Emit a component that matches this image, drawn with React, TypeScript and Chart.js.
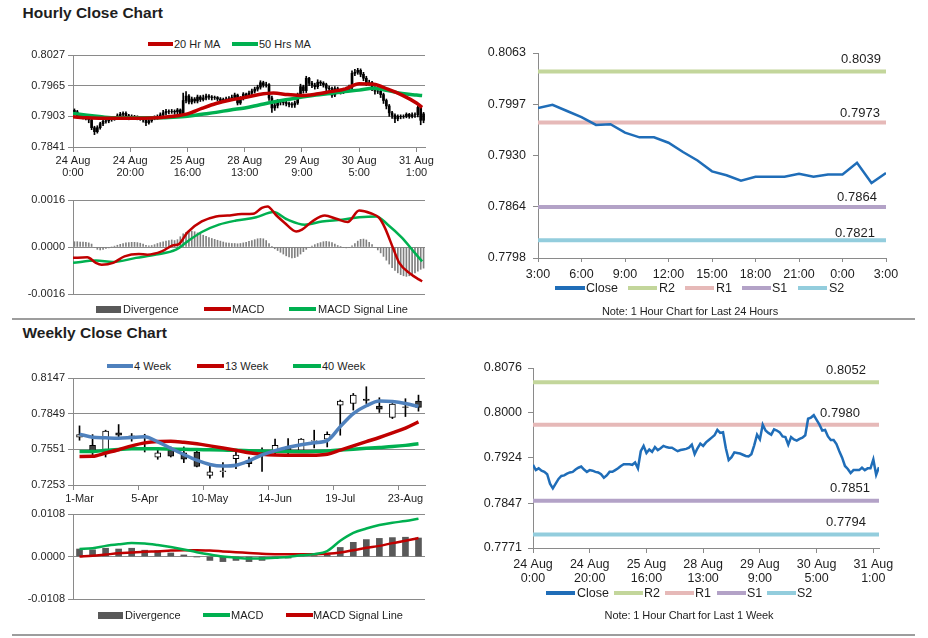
import React, { useEffect, useRef } from 'react';
import { Chart, registerables } from 'chart.js';
Chart.register(...registerables);

const FONT = '"Liberation Sans", Arial, sans-serif';
const GRID = '#8a8a8a';
const INK = '#1e1e1e';
const RED = '#C00000';
const GREEN = '#00B050';
const BLUE = '#4F81BD';
const CLOSE_BLUE = '#1F6DB8';
const DIV_GRAY = '#595959';
const LEVEL_COLORS = ['#C3D69B', '#E6B9B8', '#B3A2C7', '#93CDDD'];
const LEVEL_NAMES = ['R2', 'R1', 'S1', 'S2'];

Chart.defaults.font.family = FONT;
Chart.defaults.color = INK;

// ---------------- Hourly data (24 Aug 0:00 .. 31 Aug 3:00) ----------------
const hourTickIndex = [0, 20, 40, 60, 80, 100, 120];
const hourTickLabels = [
  ['24 Aug', '0:00'], ['24 Aug', '20:00'], ['25 Aug', '16:00'], ['28 Aug', '13:00'],
  ['29 Aug', '9:00'], ['30 Aug', '5:00'], ['31 Aug', '1:00'],
];
const firstOpen = 0.7915;
const hourlyClose = [
  0.7912, 0.7903, 0.7906, 0.7902, 0.7900, 0.7896, 0.7880, 0.7872, 0.7880, 0.7888,
  0.7893, 0.7894, 0.7897, 0.7899, 0.7900, 0.7904, 0.7907, 0.7909, 0.7904, 0.7900,
  0.7903, 0.7902, 0.7900, 0.7899, 0.7896, 0.7890, 0.7894, 0.7900, 0.7900, 0.7903,
  0.7906, 0.7910, 0.7913, 0.7913, 0.7913, 0.7912, 0.7916, 0.7906, 0.7935, 0.7944,
  0.7932, 0.7938, 0.7934, 0.7942, 0.7937, 0.7940, 0.7944, 0.7942, 0.7941, 0.7941,
  0.7938, 0.7935, 0.7937, 0.7938, 0.7939, 0.7941, 0.7946, 0.7930, 0.7940, 0.7948,
  0.7944, 0.7950, 0.7954, 0.7958, 0.7962, 0.7971, 0.7966, 0.7967, 0.7940, 0.7920,
  0.7925, 0.7933, 0.7932, 0.7931, 0.7929, 0.7927, 0.7926, 0.7930, 0.7945, 0.7963,
  0.7955, 0.7980, 0.7970, 0.7966, 0.7963, 0.7972, 0.7970, 0.7967, 0.7960, 0.7959,
  0.7946, 0.7959, 0.7955, 0.7953, 0.7956, 0.7958, 0.7962, 0.7990, 0.7992, 0.7996,
  0.7988, 0.7980, 0.7970, 0.7971, 0.7960, 0.7954, 0.7954, 0.7947, 0.7935, 0.7924,
  0.7910, 0.7905, 0.7898, 0.7903, 0.7903, 0.7903, 0.7907, 0.7903, 0.7906, 0.7906,
  0.7921, 0.7895, 0.7908,
];
const hourlyHigh = [
  0.7918, 0.7915, 0.7909, 0.7908, 0.7905, 0.7903, 0.7898, 0.7883, 0.7884, 0.7891,
  0.7896, 0.7898, 0.7900, 0.7902, 0.7903, 0.7908, 0.7911, 0.7912, 0.7912, 0.7907,
  0.7906, 0.7905, 0.7904, 0.7903, 0.7901, 0.7898, 0.7897, 0.7903, 0.7904, 0.7906,
  0.7910, 0.7915, 0.7917, 0.7916, 0.7917, 0.7916, 0.7919, 0.7918, 0.7950, 0.7953,
  0.7947, 0.7942, 0.7941, 0.7946, 0.7945, 0.7946, 0.7948, 0.7947, 0.7945, 0.7944,
  0.7943, 0.7941, 0.7940, 0.7942, 0.7943, 0.7946, 0.7950, 0.7948, 0.7943, 0.7951,
  0.7950, 0.7954, 0.7958, 0.7962, 0.7966, 0.7975, 0.7974, 0.7972, 0.7969, 0.7944,
  0.7930, 0.7937, 0.7936, 0.7935, 0.7934, 0.7932, 0.7931, 0.7934, 0.7950, 0.7968,
  0.7966, 0.7984, 0.7982, 0.7974, 0.7970, 0.7977, 0.7975, 0.7973, 0.7970, 0.7964,
  0.7962, 0.7963, 0.7962, 0.7958, 0.7960, 0.7962, 0.7966, 0.7995, 0.7998, 0.8000,
  0.7999, 0.7992, 0.7984, 0.7976, 0.7974, 0.7963, 0.7958, 0.7957, 0.7950, 0.7938,
  0.7927, 0.7913, 0.7908, 0.7906, 0.7906, 0.7906, 0.7910, 0.7909, 0.7910, 0.7910,
  0.7924, 0.7923, 0.7911,
];
const hourlyLow = [
  0.7908, 0.7900, 0.7900, 0.7898, 0.7896, 0.7890, 0.7876, 0.7866, 0.7869, 0.7877,
  0.7884, 0.7889, 0.7890, 0.7893, 0.7895, 0.7897, 0.7901, 0.7903, 0.7900, 0.7896,
  0.7897, 0.7898, 0.7896, 0.7895, 0.7891, 0.7884, 0.7887, 0.7891, 0.7896, 0.7897,
  0.7900, 0.7903, 0.7906, 0.7908, 0.7909, 0.7907, 0.7908, 0.7902, 0.7904, 0.7930,
  0.7928, 0.7928, 0.7930, 0.7930, 0.7933, 0.7934, 0.7936, 0.7937, 0.7936, 0.7937,
  0.7934, 0.7931, 0.7932, 0.7933, 0.7935, 0.7935, 0.7937, 0.7926, 0.7927, 0.7936,
  0.7940, 0.7941, 0.7946, 0.7950, 0.7954, 0.7958, 0.7962, 0.7962, 0.7935, 0.7911,
  0.7915, 0.7920, 0.7926, 0.7926, 0.7924, 0.7922, 0.7921, 0.7921, 0.7927, 0.7941,
  0.7950, 0.7951, 0.7965, 0.7961, 0.7958, 0.7959, 0.7965, 0.7962, 0.7955, 0.7954,
  0.7941, 0.7943, 0.7950, 0.7948, 0.7949, 0.7951, 0.7954, 0.7958, 0.7985, 0.7988,
  0.7983, 0.7975, 0.7965, 0.7966, 0.7955, 0.7948, 0.7949, 0.7941, 0.7929, 0.7918,
  0.7903, 0.7899, 0.7890, 0.7894, 0.7898, 0.7899, 0.7900, 0.7899, 0.7900, 0.7901,
  0.7902, 0.7886, 0.7890,
];
const maHours = [0, 5, 10, 15, 20, 25, 30, 35, 40, 45, 50, 55, 60, 65, 70, 75, 80, 85, 90, 95, 100, 105, 110, 115, 120, 122];
const ma20 = [0.7902, 0.7900, 0.7899, 0.7899, 0.7899, 0.7899, 0.7900, 0.7903, 0.7908, 0.7919, 0.7929, 0.7936, 0.7941, 0.7947, 0.7950, 0.7947, 0.7945, 0.7948, 0.7953, 0.7958, 0.7969, 0.7968, 0.7958, 0.7946, 0.7930, 0.7921];
const ma50 = [0.7909, 0.7905, 0.7902, 0.7900, 0.7900, 0.7900, 0.7900, 0.7901, 0.7903, 0.7907, 0.7911, 0.7916, 0.7920, 0.7926, 0.7932, 0.7937, 0.7942, 0.7946, 0.7949, 0.7953, 0.7956, 0.7960, 0.7955, 0.7949, 0.7946, 0.7945];
const hPriceTicks = [0.7841, 0.7903, 0.7965, 0.8027];

const hMacdHours = [0, 5, 8, 10, 14, 18, 23, 26, 31, 35, 37, 40, 45, 50, 54, 59, 63, 66, 68, 71, 74, 78, 80, 84, 88, 92, 96, 100, 104, 107, 109, 112, 114, 118, 121, 122];
const hMacd = [-0.00037, -0.00035, -0.00054, -0.00060, -0.00054, -0.00032, -0.00024, -0.00026, -0.00015, 0.00006, 0.00010, 0.00050, 0.00087, 0.00104, 0.00107, 0.00112, 0.00113, 0.00133, 0.00138, 0.00108, 0.00082, 0.00053, 0.00059, 0.00090, 0.00107, 0.00096, 0.00085, 0.00124, 0.00115, 0.00099, 0.00065, -0.00008, -0.00054, -0.00092, -0.00111, -0.00117];
const hSignalHours = [0, 8, 14, 22, 29, 36, 40, 45, 51, 57, 64, 70, 75, 81, 87, 94, 100, 106, 110, 115, 119, 122];
const hSignal = [-0.00054, -0.00046, -0.00051, -0.00037, -0.00026, -0.00009, 0.00019, 0.00051, 0.00076, 0.00090, 0.00101, 0.00119, 0.00093, 0.00076, 0.00087, 0.00093, 0.00101, 0.00104, 0.00076, 0.00031, -0.00015, -0.00049];
const hourlyDiv = [
  0.00018, 0.00018, 0.00017, 0.00017, 0.00016, 0.00014, 0.00010,
  -0.00002, -0.00008, -0.00010, -0.00008,
  -0.00005, -0.00003, 0.00000, 0.00003, 0.00006, 0.00009,
  0.00012, 0.00014, 0.00015, 0.00016, 0.00016, 0.00015, 0.00013, 0.00010,
  0.00006, 0.00004, 0.00005, 0.00008,
  0.00012, 0.00015, 0.00018, 0.00020, 0.00022, 0.00024, 0.00022,
  0.00025, 0.00035, 0.00045, 0.00050, 0.00053, 0.00054, 0.00052, 0.00048, 0.00044, 0.00040,
  0.00036, 0.00032, 0.00029, 0.00026, 0.00023, 0.00020, 0.00017, 0.00014, 0.00013, 0.00012,
  0.00012, 0.00011, 0.00012, 0.00014, 0.00016, 0.00019, 0.00022,
  0.00025, 0.00028, 0.00029, 0.00028, 0.00022, 0.00012, 0.00002,
  -0.00006, -0.00012, -0.00018, -0.00024, -0.00030, -0.00034, -0.00037, -0.00036, -0.00032, -0.00024, -0.00016,
  -0.00008, -0.00002, 0.00003, 0.00008, 0.00012,
  0.00015, 0.00018, 0.00019, 0.00018, 0.00015, 0.00010, 0.00005,
  0.00002, -0.00002, -0.00003, -0.00002, 0.00004,
  0.00012, 0.00020, 0.00026, 0.00027, 0.00024, 0.00016, 0.00008,
  -0.00002, -0.00010, -0.00020, -0.00032, -0.00045, -0.00058,
  -0.00070, -0.00080, -0.00088, -0.00094, -0.00098, -0.00100, -0.00098, -0.00094,
  -0.00088, -0.00082, -0.00076, -0.00072,
];
const hMacdTicks = [-0.0016, 0, 0.0016];

// ---------------- Weekly data ----------------
const weekLabels = ['1-Mar', '8-Mar', '15-Mar', '22-Mar', '29-Mar', '5-Apr', '12-Apr', '19-Apr', '26-Apr', '3-May', '10-May', '17-May', '24-May', '31-May', '7-Jun', '14-Jun', '21-Jun', '28-Jun', '5-Jul', '12-Jul', '19-Jul', '26-Jul', '2-Aug', '9-Aug', '16-Aug', '23-Aug', '30-Aug'];
const weekOpen = [0.7652, 0.7585, 0.7535, 0.7688, 0.7649, 0.7662, 0.7485, 0.7543, 0.7521, 0.7529, 0.7334, 0.7365, 0.7473, 0.7460, 0.7504, 0.7529, 0.7571, 0.7543, 0.7620, 0.7636, 0.7921, 0.7934, 0.7971, 0.7912, 0.7817, 0.7907, 0.7954];
const weekClose = [0.7674, 0.7529, 0.7703, 0.7669, 0.7663, 0.7655, 0.7521, 0.7493, 0.7468, 0.7409, 0.7362, 0.7372, 0.7502, 0.7431, 0.7523, 0.7585, 0.7529, 0.7636, 0.7625, 0.7677, 0.7954, 0.8004, 0.7959, 0.7887, 0.7929, 0.7902, 0.7901];
const weekHigh = [0.7747, 0.7674, 0.7711, 0.7758, 0.7683, 0.7677, 0.7543, 0.7571, 0.7571, 0.7535, 0.7409, 0.7440, 0.7529, 0.7487, 0.7563, 0.7636, 0.7641, 0.7641, 0.7711, 0.7697, 0.7963, 0.8018, 0.8074, 0.7982, 0.7934, 0.7974, 0.8004];
const weekLow = [0.7627, 0.7507, 0.7487, 0.7647, 0.7619, 0.7529, 0.7468, 0.7487, 0.7440, 0.7404, 0.7311, 0.7319, 0.7389, 0.7404, 0.7367, 0.7515, 0.7515, 0.7529, 0.7563, 0.7571, 0.7669, 0.7879, 0.7934, 0.7859, 0.7808, 0.7825, 0.7870];
const ma4 = [0.7678, 0.7652, 0.7647, 0.7644, 0.7650, 0.7656, 0.7614, 0.7560, 0.7508, 0.7460, 0.7424, 0.7411, 0.7418, 0.7455, 0.7505, 0.7540, 0.7568, 0.7590, 0.7606, 0.7624, 0.7741, 0.7850, 0.7915, 0.7955, 0.7950, 0.7934, 0.7909];
const ma13 = [0.7492, 0.7493, 0.7520, 0.7548, 0.7580, 0.7605, 0.7617, 0.7619, 0.7610, 0.7597, 0.7580, 0.7562, 0.7543, 0.7522, 0.7510, 0.7504, 0.7502, 0.7501, 0.7502, 0.7510, 0.7545, 0.7580, 0.7615, 0.7650, 0.7688, 0.7728, 0.7780];
const ma40 = [0.7532, 0.7532, 0.7543, 0.7550, 0.7555, 0.7556, 0.7555, 0.7553, 0.7551, 0.7549, 0.7547, 0.7545, 0.7543, 0.7540, 0.7537, 0.7534, 0.7532, 0.7531, 0.7533, 0.7538, 0.7545, 0.7552, 0.7560, 0.7567, 0.7574, 0.7584, 0.7598];
const wPriceTicks = [0.7253, 0.7551, 0.7849, 0.8147];
const weekMacd = [0.0019, 0.0021, 0.0027, 0.0031, 0.0034, 0.0033, 0.0029, 0.0024, 0.0018, 0.0011, 0.0005, 0.0000, -0.0003, -0.0005, -0.0005, -0.0003, -0.0001, 0.0003, 0.0006, 0.0014, 0.0040, 0.0060, 0.0071, 0.0080, 0.0086, 0.0090, 0.0096];
const weekSignal = [0.0000, 0.0002, 0.0005, 0.0008, 0.0010, 0.0012, 0.0013, 0.0015, 0.0016, 0.0016, 0.0015, 0.0013, 0.0011, 0.0009, 0.0007, 0.0006, 0.0006, 0.0006, 0.0006, 0.0007, 0.0010, 0.0016, 0.0022, 0.0027, 0.0034, 0.0040, 0.0047];
const weekDiv = [0.0019, 0.0017, 0.0021, 0.0019, 0.0021, 0.0016, 0.0015, 0.0009, 0.0004, -0.0001, -0.0010, -0.0013, -0.0010, -0.0013, -0.0010, -0.0005, -0.0004, 0.0002, 0.0002, 0.0004, 0.0023, 0.0036, 0.0043, 0.0046, 0.0048, 0.0049, 0.0047];
const wMacdTicks = [-0.0108, 0, 0.0108];

// ---------------- Last 24 hours / last week with pivots ----------------
const dayStart = 98;
const dayTickHours = [0, 3, 6, 9, 12, 15, 18, 21, 24];
const dayTickLabels = ['3:00', '6:00', '9:00', '12:00', '15:00', '18:00', '21:00', '0:00', '3:00'];
const dayTicks = [0.7798, 0.7864, 0.7930, 0.7997, 0.8063];
const dayLevels = [0.8039, 0.7973, 0.7864, 0.7821];
const weekHourTicks = [0.7771, 0.7847, 0.7924, 0.8000, 0.8076];
const weekLevels = [0.8052, 0.7980, 0.7851, 0.7794];

// ---------------- helpers ----------------
const fixTicks = (values: number[]) => (s: any) => { s.ticks = values.map((v) => ({ value: v })); };
const fixWidth = (w: number) => (s: any) => { s.width = w; };
const fixHeight = (h: number) => (s: any) => { s.height = h; };

function baseOptions(padding: any) {
  return {
    responsive: false,
    animation: false,
    devicePixelRatio: 1,
    events: [],
    layout: { padding },
    plugins: { legend: { display: false }, tooltip: { enabled: false } },
  };
}

function leftY(values: number[], width: number) {
  return {
    min: values[0],
    max: values[values.length - 1],
    afterBuildTicks: fixTicks(values),
    afterFit: fixWidth(width),
    ticks: { callback: (_v: any, i: number) => values[i].toFixed(4), font: { size: 11 }, color: INK, padding: 3, autoSkip: false },
    grid: { color: GRID, tickLength: 5 },
    border: { color: GRID },
  };
}

function rightY(values: number[], width: number, pad: number) {
  return {
    min: values[0],
    max: values[values.length - 1],
    afterBuildTicks: fixTicks(values),
    afterFit: fixWidth(width),
    ticks: { callback: (_v: any, i: number) => values[i].toFixed(4), font: { size: 12.5 }, color: INK, padding: pad, autoSkip: false },
    grid: { color: GRID, tickLength: 5, drawOnChartArea: false },
    border: { color: GRID },
  };
}

function line(data: any[], color: string, width: number, smooth = true) {
  return {
    type: 'line', data, borderColor: color, backgroundColor: color, borderWidth: width, pointRadius: 0,
    tension: smooth ? 0.4 : 0, cubicInterpolationMode: smooth ? 'monotone' : 'default', fill: false,
  };
}

function levelLabels(levels: number[], dx: number[], dy: number[]) {
  return {
    id: 'levelLabels',
    afterDatasetsDraw(chart: any) {
      const { ctx, chartArea, scales } = chart;
      ctx.save();
      ctx.font = `13px ${FONT}`;
      ctx.fillStyle = INK;
      ctx.textAlign = 'center';
      ctx.textBaseline = 'middle';
      levels.forEach((lv, k) => {
        ctx.fillText(lv.toFixed(4), chartArea.right - dx[k], scales.y.getPixelForValue(lv) - dy[k]);
      });
      ctx.restore();
    },
  };
}

// ---------------- chart configs ----------------
function hourlyPriceConfig() {
  return {
    type: 'bar',
    data: {
      datasets: [
        line(maHours.map((h, i) => ({ x: h, y: ma20[i] })), RED, 3.5),
        line(maHours.map((h, i) => ({ x: h, y: ma50[i] })), GREEN, 3.5),
        {
          type: 'bar', grouped: false, barThickness: 2, backgroundColor: '#000',
          data: hourlyClose.map((c, i) => ({ x: i + 0.5, y: [i === 0 ? firstOpen : hourlyClose[i - 1], c] })),
        },
        {
          type: 'bar', grouped: false, barThickness: 1, backgroundColor: '#000',
          data: hourlyClose.map((_c, i) => ({ x: i + 0.5, y: [hourlyLow[i], hourlyHigh[i]] })),
        },
      ],
    },
    options: {
      ...baseOptions({ top: 11, right: 20, bottom: 0, left: 0 }),
      scales: {
        x: {
          type: 'linear', min: 0, max: 123, offset: false,
          afterBuildTicks: fixTicks(hourTickIndex),
          afterFit: fixHeight(36),
          ticks: { callback: (_v: any, i: number) => hourTickLabels[i], font: { size: 11, lineHeight: 1.1 }, color: INK, padding: 3, maxRotation: 0, autoSkip: false },
          grid: { drawOnChartArea: false, tickLength: 5, color: GRID, offset: false },
          border: { color: GRID },
        },
        y: leftY(hPriceTicks, 73),
      },
    },
  };
}

function hourlyMacdConfig() {
  return {
    type: 'bar',
    data: {
      datasets: [
        line(hMacdHours.map((h, i) => ({ x: h, y: hMacd[i] })), RED, 2.5),
        line(hSignalHours.map((h, i) => ({ x: h, y: hSignal[i] })), GREEN, 2.5),
        {
          type: 'bar', grouped: false, barThickness: 1, backgroundColor: '#808080',
          data: hourlyDiv.map((v, i) => ({ x: i + 0.5, y: v })),
        },
      ],
    },
    options: {
      ...baseOptions({ top: 10, right: 20, bottom: 10, left: 0 }),
      scales: {
        x: { type: 'linear', min: 0, max: 123, offset: false, display: false, grid: { offset: false } },
        y: leftY(hMacdTicks, 73),
      },
    },
  };
}

function weeklyPriceConfig() {
  return {
    type: 'bar',
    data: {
      labels: weekLabels,
      datasets: [
        line(ma4, BLUE, 3.5),
        line(ma13, RED, 3.5),
        line(ma40, GREEN, 3.5),
        {
          type: 'bar', grouped: false, barThickness: 6, borderWidth: 1, borderColor: '#000', borderSkipped: false,
          backgroundColor: weekClose.map((c, i) => (c >= weekOpen[i] ? '#ffffff' : '#404040')),
          data: weekOpen.map((o, i) => [o, weekClose[i]]),
        },
        {
          type: 'bar', grouped: false, barThickness: 1, backgroundColor: '#000',
          data: weekLow.map((l, i) => [l, weekHigh[i]]),
        },
      ],
    },
    options: {
      ...baseOptions({ top: 10, right: 20, bottom: 0, left: 0 }),
      scales: {
        x: {
          type: 'category', offset: true,
          afterFit: fixHeight(22),
          ticks: { callback: (_v: any, i: number) => (i % 5 === 0 ? weekLabels[i] : ''), font: { size: 11 }, color: INK, padding: 2, maxRotation: 0, autoSkip: false },
          grid: { offset: true, drawOnChartArea: false, tickLength: 5, color: (c: any) => (c.index % 5 === 0 ? GRID : 'rgba(0,0,0,0)') },
          border: { color: GRID },
        },
        y: leftY(wPriceTicks, 73),
      },
    },
  };
}

function weeklyMacdConfig() {
  return {
    type: 'bar',
    data: {
      labels: weekLabels,
      datasets: [
        line(weekMacd, GREEN, 2.5),
        line(weekSignal, RED, 2.5),
        { type: 'bar', grouped: false, barThickness: 6, backgroundColor: DIV_GRAY, data: weekDiv },
      ],
    },
    options: {
      ...baseOptions({ top: 10, right: 20, bottom: 10, left: 0 }),
      scales: {
        x: { type: 'category', offset: true, display: false, grid: { offset: true } },
        y: leftY(wMacdTicks, 73),
      },
    },
  };
}

function dayConfig() {
  return {
    type: 'line',
    data: {
      datasets: [
        line(hourlyClose.slice(dayStart).map((v, i) => ({ x: i, y: v })), CLOSE_BLUE, 2.5, false),
        ...dayLevels.map((lv, k) => line([{ x: 0, y: lv }, { x: 24, y: lv }], LEVEL_COLORS[k], 4, false)),
      ],
    },
    options: {
      ...baseOptions({ top: 15, right: 24, bottom: 0, left: 0 }),
      scales: {
        x: {
          type: 'linear', min: 0, max: 24,
          afterBuildTicks: fixTicks(dayTickHours),
          afterFit: fixHeight(27),
          ticks: { callback: (_v: any, i: number) => dayTickLabels[i], font: { size: 12.5 }, color: INK, padding: 5, maxRotation: 0, autoSkip: false },
          grid: { drawOnChartArea: false, tickLength: 4, color: GRID },
          border: { color: GRID },
        },
        y: rightY(dayTicks, 68, 7),
      },
    },
    plugins: [levelLabels(dayLevels, [25, 26, 29, 31], [12, 9, 10, 7])],
  };
}

function weekHourConfig() {
  return {
    type: 'line',
    data: {
      datasets: [
        line(hourlyClose.map((v, i) => ({ x: i, y: v })), CLOSE_BLUE, 2.5, false),
        ...weekLevels.map((lv, k) => line([{ x: 0, y: lv }, { x: 122, y: lv }], LEVEL_COLORS[k], 4, false)),
      ],
    },
    options: {
      ...baseOptions({ top: 14, right: 26, bottom: 0, left: 0 }),
      scales: {
        x: {
          type: 'linear', min: 0, max: 122,
          afterBuildTicks: fixTicks(hourTickIndex),
          afterFit: fixHeight(42),
          ticks: { callback: (_v: any, i: number) => hourTickLabels[i], font: { size: 12.5, lineHeight: 1.12 }, color: INK, padding: 5, maxRotation: 0, autoSkip: false },
          grid: { drawOnChartArea: false, tickLength: 5, color: GRID },
          border: { color: GRID },
        },
        y: rightY(weekHourTicks, 68, 6),
      },
    },
    plugins: [levelLabels(weekLevels, [33, 39, 29, 33], [12, 11, 12, 12])],
  };
}

// ---------------- components ----------------
function ChartBox({ left, top, width, height, make }: any) {
  const ref = useRef<HTMLCanvasElement>(null);
  useEffect(() => {
    const chart = new Chart(ref.current as HTMLCanvasElement, make());
    return () => chart.destroy();
  }, []);
  return (
    <canvas
      ref={ref}
      width={width}
      height={height}
      style={{ position: 'absolute', left, top, width, height }}
    />
  );
}

function Text({ x, y, size, children, bold, center, ls }: any) {
  const lh = Math.round(size * 1.3);
  return (
    <div
      style={{
        position: 'absolute',
        left: center ? x - 150 : x,
        width: center ? 300 : undefined,
        textAlign: center ? 'center' : 'left',
        top: y - lh / 2,
        lineHeight: `${lh}px`,
        fontFamily: FONT,
        fontSize: size,
        fontWeight: bold ? 700 : 400,
        letterSpacing: ls || 0,
        color: INK,
        whiteSpace: 'nowrap',
      }}
    >
      {children}
    </div>
  );
}

function Legend({ y, size, items }: any) {
  return (
    <>
      {items.map((it: any, k: number) => (
        <React.Fragment key={k}>
          <div style={{ position: 'absolute', left: it.x, top: y - it.h / 2, width: it.w, height: it.h, background: it.color }} />
          <Text x={it.tx} y={y} size={size}>{it.text}</Text>
        </React.Fragment>
      ))}
    </>
  );
}

const rightLegend = (xs: number[][]) => [
  { x: xs[0][0], w: xs[0][1], h: 4, color: CLOSE_BLUE, text: 'Close', tx: xs[0][2] },
  ...LEVEL_NAMES.map((n, k) => ({ x: xs[k + 1][0], w: xs[k + 1][1], h: 4, color: LEVEL_COLORS[k], text: n, tx: xs[k + 1][2] })),
];

export default function App() {
  return (
    <div style={{ position: 'absolute', left: 0, top: 0, width: 928, height: 638, background: '#fff', overflow: 'hidden' }}>
      <Text x={22.5} y={13.4} size={15.5} bold>Hourly Close Chart</Text>
      <Text x={22.5} y={332.7} size={15.5} bold>Weekly Close Chart</Text>

      <Legend y={44} size={11} items={[
        { x: 148, w: 25, h: 4, color: RED, text: '20 Hr MA', tx: 174 },
        { x: 232, w: 26, h: 4, color: GREEN, text: '50 Hrs MA', tx: 259 },
      ]} />
      <ChartBox left={0} top={44} width={445} height={139} make={hourlyPriceConfig} />
      <ChartBox left={0} top={190} width={445} height={114} make={hourlyMacdConfig} />
      <Legend y={309} size={11} items={[
        { x: 96, w: 25, h: 7, color: DIV_GRAY, text: 'Divergence', tx: 123 },
        { x: 204, w: 27, h: 4, color: RED, text: 'MACD', tx: 232 },
        { x: 289, w: 27, h: 4, color: GREEN, text: 'MACD Signal Line', tx: 318 },
      ]} />

      <div style={{ position: 'absolute', left: 12, top: 318, width: 903, height: 0, borderTop: '2px solid #9d9d9d' }} />

      <Legend y={365.7} size={11} items={[
        { x: 107, w: 26, h: 4, color: BLUE, text: '4 Week', tx: 134 },
        { x: 197, w: 27, h: 4, color: RED, text: '13 Week', tx: 225 },
        { x: 293, w: 28, h: 4, color: GREEN, text: '40 Week', tx: 322 },
      ]} />
      <ChartBox left={0} top={368} width={445} height={139} make={weeklyPriceConfig} />
      <ChartBox left={0} top={504} width={445} height={105} make={weeklyMacdConfig} />
      <Legend y={615} size={11} items={[
        { x: 98, w: 25, h: 7, color: DIV_GRAY, text: 'Divergence', tx: 125 },
        { x: 203, w: 27, h: 4, color: GREEN, text: 'MACD', tx: 231 },
        { x: 286, w: 27, h: 4, color: RED, text: 'MACD Signal Line', tx: 313 },
      ]} />

      <ChartBox left={470} top={38} width={440} height={247} make={dayConfig} />
      <Legend y={287.5} size={12.5} items={rightLegend([[555, 30, 586], [628, 29, 659], [685, 29, 716], [742, 29, 772], [798, 29, 829]])} />
      <Text x={690} y={310.5} size={11} center ls={-0.1}>Note: 1 Hour Chart for Last 24 Hours</Text>

      <ChartBox left={465} top={354} width={440} height={236} make={weekHourConfig} />
      <Legend y={593.3} size={12.5} items={rightLegend([[546, 29, 577], [614, 29, 644], [665, 29, 695], [717, 29, 747], [767, 29, 797]])} />
      <Text x={689} y={615} size={11} center ls={-0.1}>Note: 1 Hour Chart for Last 1 Week</Text>

      <div style={{ position: 'absolute', left: 12, top: 634, width: 903, height: 0, borderTop: '2px solid #9d9d9d' }} />
    </div>
  );
}
